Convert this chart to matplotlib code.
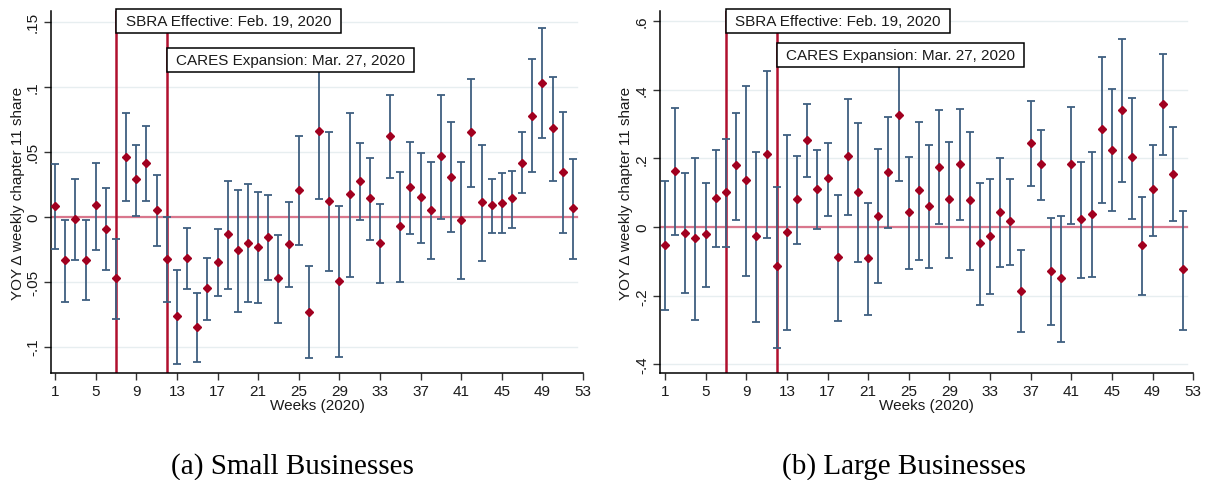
import matplotlib.pyplot as plt
import matplotlib.transforms as mtransforms
from matplotlib.patches import Rectangle

plt.rcParams['font.family'] = ['Liberation Sans', 'DejaVu Sans']

weeks = list(range(1, 53))

# small businesses: point estimate, upper and lower 95% bounds
small_est = [0.008, -0.0336, -0.002, -0.0336, 0.009, -0.0095, -0.0474, 0.0459, 0.029, 0.0413,
             0.0051, -0.0328, -0.0766, -0.0318, -0.0851, -0.0551, -0.0351, -0.0133, -0.0259, -0.0205,
             -0.0236, -0.0159, -0.0474, -0.0213, 0.0205, -0.0736, 0.0659, 0.0118, -0.0492, 0.0172,
             0.0275, 0.0144, -0.0205, 0.0621, -0.0074, 0.0226, 0.0152, 0.0051, 0.0467, 0.0303,
             -0.0028, 0.0652, 0.011, 0.0088, 0.0103, 0.0142, 0.0413, 0.0775, 0.1028, 0.0682,
             0.0344, 0.0065]
small_hi = [0.0403, -0.0028, 0.0292, -0.0028, 0.0415, 0.0218, -0.0174, 0.08, 0.0554, 0.0695,
            0.0318, 0.0, -0.041, -0.0085, -0.0587, -0.032, -0.0097, 0.0277, 0.0208, 0.0249,
            0.0188, 0.0169, -0.0138, 0.011, 0.0621, -0.0382, 0.118, 0.0649, 0.0085, 0.0795,
            0.0569, 0.0454, 0.01, 0.0938, 0.0346, 0.0577, 0.0492, 0.0418, 0.0938, 0.0726,
            0.0423, 0.1057, 0.0554, 0.0292, 0.0334, 0.0354, 0.0649, 0.1211, 0.1449, 0.1072,
            0.0803, 0.0446]
small_lo = [-0.0246, -0.0656, -0.0331, -0.0638, -0.0254, -0.0408, -0.0787, 0.0118, 0.0008, 0.0123,
            -0.0223, -0.0656, -0.1133, -0.0556, -0.1118, -0.0795, -0.0608, -0.0556, -0.0733, -0.0656,
            -0.0664, -0.0487, -0.0818, -0.0538, -0.0215, -0.1087, 0.0138, -0.0418, -0.1082, -0.0462,
            -0.0028, -0.0182, -0.0508, 0.03, -0.0502, -0.0131, -0.02, -0.0323, -0.002, -0.0115,
            -0.0477, 0.0231, -0.0341, -0.0125, -0.0125, -0.0085, 0.018, 0.0342, 0.0603, 0.0277,
            -0.0123, -0.0323]

# large businesses
large_est = [-0.0533, 0.1631, -0.0184, -0.0329, -0.0213, 0.0836, 0.102, 0.1806, 0.1369, -0.0271,
             0.2117, -0.1145, -0.0155, 0.0816, 0.2534, 0.1107, 0.1427, -0.0874, 0.2059, 0.101,
             -0.0913, 0.033, 0.1602, 0.3262, 0.0427, 0.1068, 0.0602, 0.1738, 0.0806, 0.1825,
             0.0777, -0.0476, -0.0271, 0.0427, 0.0165, -0.1854, 0.2447, 0.1825, -0.129, -0.1495,
             0.1825, 0.0223, 0.0369, 0.2855, 0.2243, 0.3408, 0.203, -0.0534, 0.1107, 0.3583,
             0.1544, -0.1233]
large_hi = [0.1349, 0.3457, 0.1564, 0.2019, 0.1273, 0.2252, 0.2555, 0.333, 0.4098, 0.2193,
            0.4544, 0.1174, 0.2689, 0.2059, 0.3592, 0.2252, 0.2456, 0.0942, 0.3719, 0.3039,
            0.0709, 0.2282, 0.3214, 0.517, 0.2049, 0.3068, 0.2379, 0.3398, 0.2486, 0.3428,
            0.2777, 0.129, 0.1408, 0.2019, 0.1408, -0.066, 0.3661, 0.2835, 0.0262, 0.033,
            0.3505, 0.1903, 0.2194, 0.4961, 0.4011, 0.5467, 0.3767, 0.0884, 0.2398, 0.503,
            0.2903, 0.0476]
large_lo = [-0.2418, -0.0224, -0.1923, -0.2709, -0.1739, -0.0574, -0.0574, 0.0213, -0.1418, -0.2767,
            -0.032, -0.3534, -0.3, -0.0495, 0.1466, -0.0049, 0.033, -0.2738, 0.0359, -0.102,
            -0.2554, -0.164, -0.0029, 0.1349, -0.1214, -0.0951, -0.1184, 0.0087, -0.0893, 0.0213,
            -0.1243, -0.2262, -0.1952, -0.1155, -0.1097, -0.3049, 0.1204, 0.0796, -0.2855, -0.335,
            0.0087, -0.1486, -0.1447, 0.069, 0.0457, 0.1301, 0.0243, -0.1971, -0.0252, 0.2087,
            0.0184, -0.3]

events = [7, 12]
event_labels = ['SBRA Effective: Feb. 19, 2020', 'CARES Expansion: Mar. 27, 2020']

small_ticks = [0.15, 0.1, 0.05, 0, -0.05, -0.1]
small_ticklabels = ['.15', '.1', '.05', '0', '-.05', '-.1']
large_ticks = [0.6, 0.4, 0.2, 0, -0.2, -0.4]
large_ticklabels = ['.6', '.4', '.2', '0', '-.2', '-.4']
xticks = list(range(1, 54, 4))

DOT = '#a1001f'
BAR = '#3f5f80'
VLINE = '#b0102e'
ZERO = '#d9778d'
GRID = '#e7eef0'
TXT = '#1a1a1a'

fig = plt.figure(figsize=(12.07, 4.81), dpi=100)


def panel(rect, est, hi, lo, yticks, ylabels, ylim, xleft, boxes, caption, cap_x):
    ax = fig.add_axes(rect)
    ax.set_xlim(xleft, 53)
    ax.set_ylim(*ylim)
    for t in yticks:
        ax.axhline(t, xmax=0.989, color=GRID, lw=1, zorder=0)
    ax.axhline(0, xmax=0.989, color=ZERO, lw=1.6, zorder=1)
    for e in events:
        ax.axvline(e, color=VLINE, lw=1.8, zorder=2)
    yerr = [[e - l for e, l in zip(est, lo)], [h - e for e, h in zip(est, hi)]]
    ax.errorbar(weeks, est, yerr=yerr, fmt='none', ecolor=BAR, elinewidth=1.3,
                capsize=2.6, capthick=1.3, zorder=3)
    ax.plot(weeks, est, 'D', color=DOT, markersize=4.3, zorder=4)

    # event labels drawn as boxes anchored at the event week
    trans = mtransforms.blended_transform_factory(ax.transData, ax.transAxes)
    for e, lab, (xr, y0, y1) in zip(events, event_labels, boxes):
        r = Rectangle((e, y0), xr - e, y1 - y0, transform=trans, facecolor='white',
                      edgecolor='black', lw=1.1, zorder=6, clip_on=False)
        ax.add_patch(r)
        ax.text((e + xr) / 2, (y0 + y1) / 2, lab, transform=trans, ha='center',
                va='center', fontsize=11, color=TXT, zorder=7, clip_on=False)

    ax.set_yticks(yticks)
    ax.set_yticklabels(ylabels, rotation=90, va='center')
    ax.set_xticks(xticks)
    ax.tick_params(axis='both', labelsize=11, length=5, width=1, color='#333333',
                   labelcolor=TXT, pad=3)
    for s in ['top', 'right']:
        ax.spines[s].set_visible(False)
    for s in ['left', 'bottom']:
        ax.spines[s].set_linewidth(1.1)
    ax.set_xlabel('Weeks (2020)', fontsize=11, labelpad=0, color=TXT)
    ax.set_ylabel('YOY Δ weekly chapter 11 share', fontsize=11, labelpad=1, color=TXT)
    fig.text(cap_x, 0.031, caption, ha='center', va='center',
             fontsize=21, family='Liberation Serif')
    return ax


panel([0.0423, 0.2218, 0.4408, 0.753], small_est, small_hi, small_lo,
      small_ticks, small_ticklabels, (-0.1205, 0.158), 0.6,
      [(29.15, 0.9393, 1.0055), (36.37, 0.8316, 0.8979)], '(a) Small Businesses', 0.242)
panel([0.5468, 0.2218, 0.4418, 0.753], large_est, large_hi, large_lo,
      large_ticks, large_ticklabels, (-0.426, 0.629), 0.51,
      [(29.05, 0.9393, 1.0055), (36.33, 0.8454, 0.9117)], '(b) Large Businesses', 0.749)

fig.savefig('out.png', dpi=100)
